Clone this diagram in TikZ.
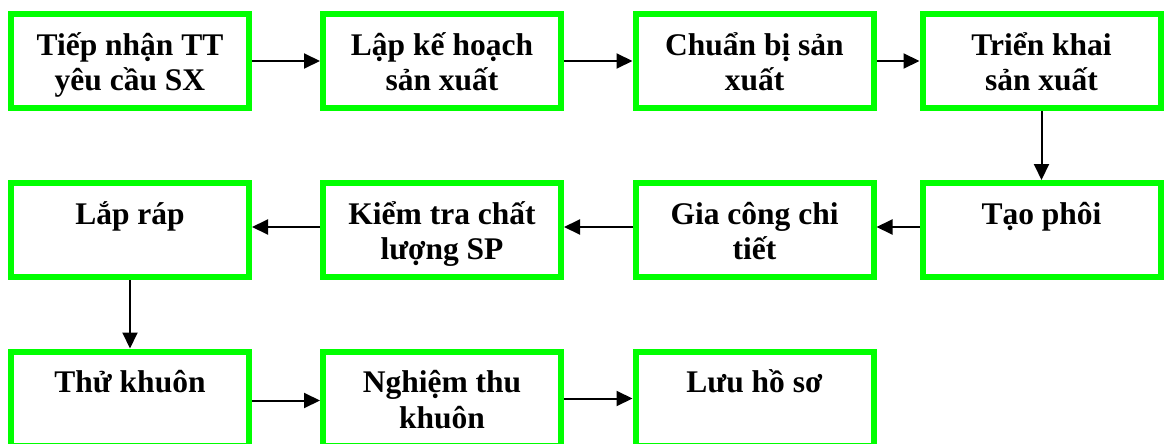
\documentclass[tikz,border=0pt]{standalone}
\usepackage{fontspec}
\setmainfont{Liberation Serif}
\usetikzlibrary{arrows.meta}
\definecolor{boxgreen}{RGB}{0,255,0}
\tikzset{
  procbox/.style={draw=boxgreen, line width=6pt, fill=white, inner sep=0pt,
    minimum width=238pt, minimum height=94pt},
  arr/.style={draw=black, line width=2pt, -{Triangle[length=16pt,width=15pt]}}
}
\newcommand{\boxtext}[1]{\parbox[c][94pt][t]{236pt}{\centering\fontsize{31.5}{35.5}\selectfont\bfseries\rule{0pt}{41pt}#1}}
\begin{document}
\begin{tikzpicture}[x=1pt,y=-1pt]
\clip (0,0) rectangle (1165,444);
\fill[white] (0,0) rectangle (1165,444);
% row 1
\node[procbox] (b1) at (130,61) {\boxtext{Tiếp nhận TT\\yêu cầu SX}};
\node[procbox] (b2) at (442,61) {\boxtext{Lập kế hoạch\\sản xuất}};
\node[procbox] (b3) at (754.5,61) {\boxtext{Chuẩn bị sản\\xuất}};
\node[procbox] (b4) at (1041.5,61) {\boxtext{Triển khai\\sản xuất}};
% row 2
\node[procbox] (b5) at (1041.5,230) {\boxtext{Tạo phôi}};
\node[procbox] (b6) at (754.5,230) {\boxtext{Gia công chi\\tiết}};
\node[procbox] (b7) at (442,230) {\boxtext{Kiểm tra chất\\lượng SP}};
\node[procbox] (b8) at (130,230) {\boxtext{Lắp ráp}};
% row 3
\node[procbox] (b9) at (130,398.5) {\boxtext{Thử khuôn}};
\node[procbox] (b10) at (442,398.5) {\boxtext{Nghiệm thu\\khuôn}};
\node[procbox] (b11) at (754.5,398.5) {\boxtext{Lưu hồ sơ}};
% connectors
\draw[arr] (b1.east) -- (b2.west);
\draw[arr] (b2.east) -- (b3.west);
\draw[arr] (b3.east) -- (b4.west);
\draw[arr] (b4.south) -- (b5.north);
\draw[arr] ([yshift=3pt]b5.west) -- ([yshift=3pt]b6.east);
\draw[arr] ([yshift=3pt]b6.west) -- ([yshift=3pt]b7.east);
\draw[arr] ([yshift=3pt]b7.west) -- ([yshift=3pt]b8.east);
\draw[arr] (b8.south) -- (b9.north);
\draw[arr] ([yshift=-2pt]b9.east) -- ([yshift=-2pt]b10.west);
\draw[arr] ([yshift=0pt]b10.east) -- ([yshift=0pt]b11.west);
\end{tikzpicture}
\end{document}
